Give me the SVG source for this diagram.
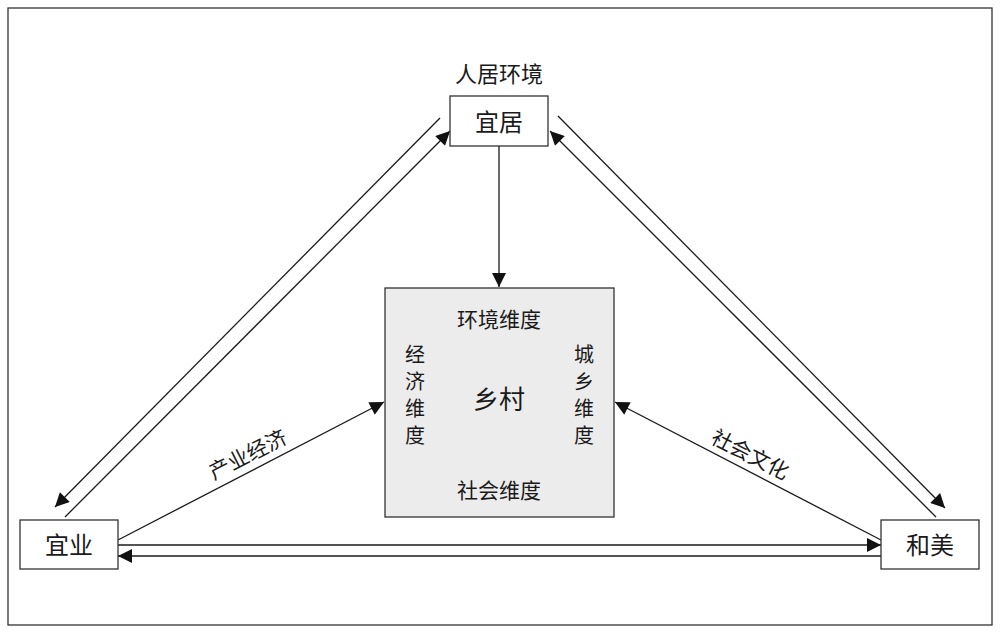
<svg xmlns="http://www.w3.org/2000/svg" width="1002" height="633" viewBox="0 0 1002 633">
<style>
text{font-family:"Noto Sans CJK SC","Liberation Sans",sans-serif;fill:#1a1a1a;text-anchor:middle}
.n{fill:#fff;stroke:#333;stroke-width:1.3}
.c line{stroke:#1a1a1a;stroke-width:1.3;marker-end:url(#a)}
</style>
<defs><marker id="a" viewBox="0 0 10 10" refX="10" refY="5" markerWidth="18" markerHeight="14" markerUnits="userSpaceOnUse" orient="auto"><path d="M0,0L10,5L0,10z" fill="#111"/></marker></defs>
<rect width="1002" height="633" fill="#fff"/>
<rect x="8" y="8" width="984" height="617" fill="none" stroke="#333" stroke-width="1.3"/>
<g class="c">
<line x1="440" y1="118" x2="55" y2="507"/>
<line x1="65" y1="517" x2="450" y2="131"/>
<line x1="558" y1="116" x2="945" y2="508"/>
<line x1="936" y1="517" x2="550" y2="131"/>
<line x1="118" y1="545" x2="881" y2="545"/>
<line x1="881" y1="556" x2="118" y2="556"/>
<line x1="499" y1="146" x2="499" y2="287"/>
<line x1="118" y1="540" x2="384" y2="402"/>
<line x1="881" y1="540" x2="615" y2="402"/>
</g>
<g id="yiju"><rect class="n" x="450" y="96" width="98" height="50"/><text x="499" y="131" font-size="24">宜居</text><text x="499" y="82" font-size="22">人居环境</text></g>
<g id="yiye"><rect class="n" x="20" y="520" width="98" height="49"/><text x="69" y="554" font-size="24">宜业</text></g>
<g id="hemei"><rect class="n" x="881" y="520" width="98" height="49"/><text x="930" y="554" font-size="24">和美</text></g>
<g id="xiangcun"><rect x="385" y="288" width="229" height="229" fill="#ececec" stroke="#333" stroke-width="1.3"/>
<text x="499" y="327" font-size="21">环境维度</text>
<text x="499" y="498" font-size="21">社会维度</text>
<text x="499" y="409" font-size="26">乡村</text>
<text x="415" y="362" font-size="20">经</text><text x="415" y="389" font-size="20">济</text><text x="415" y="416" font-size="20">维</text><text x="415" y="443" font-size="20">度</text>
<text x="584" y="362" font-size="20">城</text><text x="584" y="389" font-size="20">乡</text><text x="584" y="416" font-size="20">维</text><text x="584" y="443" font-size="20">度</text>
</g>
<text x="248" y="462" font-size="21" transform="rotate(-27 248 455)">产业经济</text>
<text x="750" y="462" font-size="21" transform="rotate(27 750 455)">社会文化</text>
</svg>
